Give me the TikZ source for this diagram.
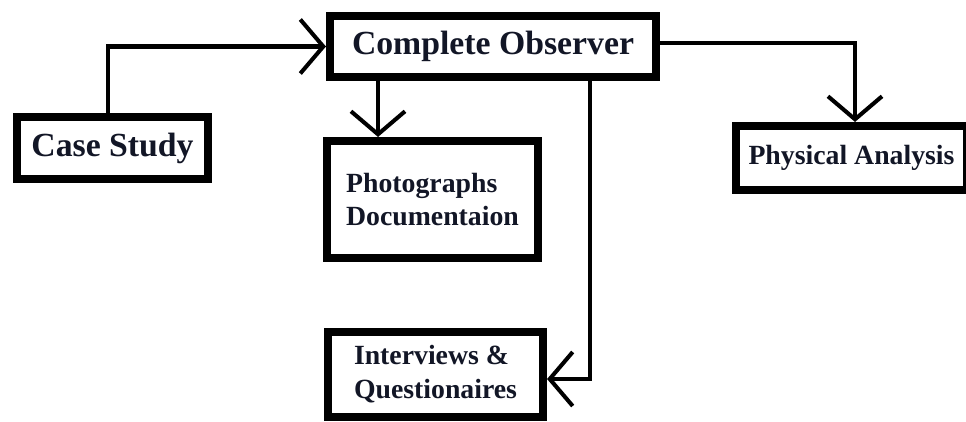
\documentclass[tikz,border=0pt]{standalone}
\usepackage{fontspec}
\setmainfont{Liberation Serif}
\usetikzlibrary{arrows.meta,positioning}
\definecolor{ObsInk}{RGB}{18,22,38}
\tikzset{
  obs/box/.style={
    draw=black,
    line width=4.6pt,
    fill=white,
    align=center,
    text=ObsInk,
    inner sep=0pt,
    font=\bfseries\fontsize{19.2}{23}\selectfont
  },
  obs/smallbox/.style={
    obs/box,
    align=left,
    font=\bfseries\fontsize{15.8}{19.3}\selectfont
  },
  obs/arrow/.style={-{Straight Barb[length=0.46cm,width=1.08cm]}, line width=2.3pt, draw=black}
}

\begin{document}
\begin{tikzpicture}[x=1cm,y=1cm]
  \useasboundingbox (0,0) rectangle (19.32,8.42);
  % boxes
  \node[obs/box,minimum width=3.82cm,minimum height=1.24cm] (case) at (2.25,5.46) {Case Study};
  \node[obs/box,minimum width=6.52cm,minimum height=1.22cm] (observer) at (9.86,7.49) {Complete Observer};
  \node[obs/smallbox,minimum width=4.22cm,minimum height=2.34cm] (photo) at (8.65,4.43) {Photographs\\Documentaion};
  \node[obs/smallbox,minimum width=4.62cm,minimum height=1.28cm] (phys) at (17.03,5.26) {Physical Analysis};
  \node[obs/smallbox,minimum width=4.30cm,minimum height=1.70cm] (inter) at (8.71,0.93) {Interviews \&\\Questionaires};
  % connectors
  \draw[obs/arrow] ([xshift=-0.09cm]case.north) |- (observer.west);
  \draw[obs/arrow] ([xshift=-2.30cm]observer.south) -- ([xshift=-1.09cm]photo.north);
  \draw[obs/arrow] ([xshift=1.94cm]observer.south) |- ([yshift=-0.09cm]inter.east);
  \draw[obs/arrow] ([yshift=0.07cm]observer.east) -| ([xshift=0.07cm]phys.north);
\end{tikzpicture}
\end{document}
